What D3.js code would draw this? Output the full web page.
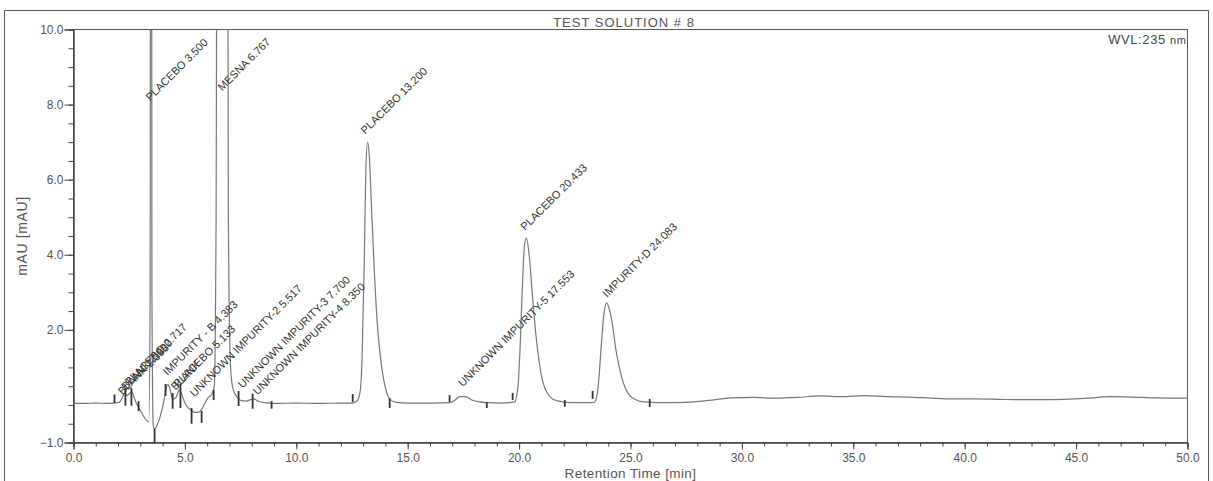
<!DOCTYPE html>
<html>
<head>
<meta charset="utf-8">
<script src="https://cdn.jsdelivr.net/npm/d3@7"></script>
<style>
  body { margin: 0; background: #fff; }
  svg { display: block; font-family: "Liberation Sans", Arial, sans-serif; }
</style>
</head>
<body>
<div id="chart"></div>
<script>
// chromatogram: retention time (min) vs signal (mAU)
var retTime = [0, 0.5, 1.0, 1.5, 1.8, 2.05, 2.2, 2.3, 2.4, 2.5, 2.62, 2.75, 2.9, 3.05, 3.2, 3.38,
  3.44, 3.48, 3.52, 3.58, 3.64, 3.74, 3.87, 4.0, 4.12, 4.22, 4.32, 4.45, 4.6, 4.75, 4.85, 5.0,
  5.15, 5.3, 5.45, 5.6, 5.75, 5.9, 6.05, 6.2, 6.32, 6.4, 6.5, 6.85, 6.95, 7.05, 7.15, 7.3, 7.5,
  7.75, 7.95, 8.1, 8.3, 8.6, 9.0, 10, 11, 12, 12.5, 12.7, 12.85, 12.95, 13.05, 13.12, 13.2,
  13.28, 13.38, 13.5, 13.62, 13.75, 13.9, 14.05, 14.2, 14.5, 15, 16, 16.9, 17.1, 17.35, 17.6,
  17.85, 18.2, 18.6, 19.2, 19.8, 19.95, 20.05, 20.15, 20.25, 20.33, 20.45, 20.6, 20.75, 20.9,
  21.05, 21.25, 21.5, 21.8, 22.1, 22.6, 23.2, 23.4, 23.55, 23.68, 23.8, 23.93, 24.05, 24.2,
  24.35, 24.5, 24.7, 24.9, 25.2, 25.5, 26, 26.5, 27.5, 28.5, 29.5, 30.5, 31.5, 32.5, 33.5,
  34.5, 35.5, 36.5, 37.5, 38.5, 39.5, 40.5, 41.5, 42.5, 43.5, 44.5, 45.5, 46.5, 47.5, 48.5, 50];
var signal = [0.05, 0.04, 0.05, 0.04, 0.05, 0.07, 0.2, 0.32, 0.25, 0.3, 0.35, 0.15, -0.05, -0.2, -0.35, -0.45,
  3, 40, 3, -0.55, -0.65, -0.55, -0.35, -0.05, 0.3, 0.55, 0.45, 0.15, 0.2, 0.4, 0.3, 0.05,
  -0.08, -0.15, -0.2, -0.2, -0.12, 0.05, 0.2, 0.28, 0.5, 5, 40, 40, 5, 1.0, 0.45, 0.25, 0.12,
  0.1, 0.14, 0.16, 0.1, 0.06, 0.04, 0.05, 0.04, 0.05, 0.05, 0.09, 0.3, 1.2, 3.8, 6.2, 7.0,
  6.6, 5.2, 3.6, 2.3, 1.4, 0.75, 0.35, 0.15, 0.07, 0.05, 0.05, 0.06, 0.12, 0.22, 0.22,
  0.14, 0.08, 0.06, 0.05, 0.08, 0.5, 1.6, 3.2, 4.3, 4.45, 4.0, 2.9, 1.9, 1.15,
  0.65, 0.33, 0.16, 0.1, 0.07, 0.06, 0.06, 0.08, 0.5, 1.5, 2.4, 2.72, 2.55, 2.1,
  1.45, 1.0, 0.55, 0.3, 0.15, 0.09, 0.07, 0.06, 0.07, 0.12, 0.19, 0.2, 0.18, 0.2, 0.24,
  0.22, 0.25, 0.22, 0.21, 0.18, 0.16, 0.16, 0.15, 0.14, 0.14, 0.15, 0.18, 0.22, 0.21, 0.19, 0.18];

// peak delimiter marks: time and the mAU span of each mark
var markTime = [1.84, 2.33, 2.6, 2.92, 3.64, 4.13, 4.45, 4.8, 5.3, 5.75, 6.29, 7.41, 8.04, 8.89,
  12.53, 14.19, 16.88, 18.55, 19.71, 22.05, 23.3, 25.86];
var markLo = [0.05, -0.02, -0.02, -0.16, -1.0, 0.24, -0.1, -0.08, -0.5, -0.48, 0.13, -0.03, -0.1, -0.1,
  0.08, -0.08, 0.08, -0.08, 0.13, -0.05, 0.16, -0.05];
var markHi = [0.28, 0.45, 0.45, 0.1, -0.63, 0.56, 0.32, 0.56, -0.08, -0.16, 0.4, 0.37, 0.3, 0.1,
  0.29, 0.18, 0.26, 0.08, 0.32, 0.13, 0.37, 0.16];

// peak names and where they sit (time, mAU)
var peakNames = ["BLANK 2.333", "BLANK 2.600", "PLACEBO 2.717", "PLACEBO 3.500", "IMPURITY - B 4.383",
  "BLANK", "PLACEBO 5.133", "UNKNOWN IMPURITY-2 5.517", "MESNA 6.767", "UNKNOWN IMPURITY-3 7.700",
  "UNKNOWN IMPURITY-4 8.350", "PLACEBO 13.200", "UNKNOWN IMPURITY-5 17.553", "PLACEBO 20.433",
  "IMPURITY-D 24.083"];
var peakLabelT = [2.2, 2.35, 2.5, 3.44, 4.22, 4.58, 4.68, 5.43, 6.68, 7.59, 8.26, 13.1, 17.47, 20.27, 23.95];
var peakLabelV = [0.25, 0.38, 0.5, 8.08, 0.77, 0.38, 0.45, 0.2, 8.35, 0.43, 0.25, 7.2, 0.47, 4.63, 2.85];

var yLabelTicks = [10, 8, 6, 4, 2, -1];

var W = 1213, H = 481;
var svg = d3.select("#chart").append("svg")
    .attr("width", W)
    .attr("height", H);

var plotL = 73.5, plotR = 1187.5, plotT = 29.5, plotB = 442.5;
var ink = "#444";

var x = d3.scaleLinear().domain([0, 50]).range([plotL, plotR]);
var y = d3.scaleLinear().domain([-1, 10]).range([plotB, plotT]);

// outer frame (scan shows top, left, right edges)
svg.append("path")
    .attr("d", "M4.5,481 V10.5 H1208.5 V481")
    .attr("fill", "none")
    .attr("stroke", "#555");

// plot box
svg.append("rect")
    .attr("x", plotL).attr("y", plotT)
    .attr("width", plotR - plotL).attr("height", plotB - plotT)
    .attr("fill", "none")
    .attr("stroke", "#555");

svg.append("text")
    .attr("x", 624).attr("y", 27)
    .attr("text-anchor", "middle")
    .attr("font-size", 13)
    .attr("letter-spacing", 1)
    .attr("fill", "#555")
    .text("TEST SOLUTION # 8");

var wvl = svg.append("text")
    .attr("x", plotR - 1).attr("y", 44)
    .attr("text-anchor", "end")
    .attr("font-size", 13)
    .attr("letter-spacing", 0.6)
    .attr("fill", ink);
wvl.append("tspan").text("WVL:235 ");
wvl.append("tspan").attr("font-size", 11).text("nm");

// axes
var xMinor = svg.append("g")
    .attr("transform", "translate(0," + plotB + ")")
    .call(d3.axisBottom(x).tickValues(d3.range(0, 51, 1)).tickSize(4).tickFormat(""));
var xMajor = svg.append("g")
    .attr("transform", "translate(0," + plotB + ")")
    .call(d3.axisBottom(x).tickValues(d3.range(0, 51, 5)).tickSize(7).tickPadding(4)
      .tickFormat(d3.format(".1f")));

var yMinor = svg.append("g")
    .attr("transform", "translate(" + plotL + ",0)")
    .call(d3.axisLeft(y).tickValues(d3.range(-1, 10.01, 0.5)).tickSize(5).tickFormat(""));
var yMajor = svg.append("g")
    .attr("transform", "translate(" + plotL + ",0)")
    .call(d3.axisLeft(y).tickValues(yLabelTicks).tickSize(9).tickPadding(1)
      .tickFormat(d3.format(".1f")));

[xMinor, xMajor, yMinor, yMajor].forEach(function(g) {
  g.selectAll(".domain").attr("stroke", "#444");
  g.selectAll("line").attr("stroke", "#444");
  g.selectAll("text").attr("fill", "#555").attr("font-size", 12)
    .attr("font-family", "Liberation Sans, Arial, sans-serif");
});

svg.append("text")
    .attr("x", (plotL + plotR) / 2).attr("y", 478)
    .attr("text-anchor", "middle")
    .attr("font-size", 13.5)
    .attr("letter-spacing", 0.4)
    .attr("fill", "#555")
    .text("Retention Time [min]");

svg.append("text")
    .attr("transform", "translate(27," + ((plotT + plotB) / 2) + ") rotate(-90)")
    .attr("text-anchor", "middle")
    .attr("font-size", 14)
    .attr("letter-spacing", 0.6)
    .attr("fill", "#555")
    .text("mAU [mAU]");

// trace
svg.append("clipPath").attr("id", "plotclip")
  .append("rect")
    .attr("x", plotL).attr("y", plotT)
    .attr("width", plotR - plotL).attr("height", plotB - plotT);

var pts = retTime.map(function(t, i) { return [t, signal[i]]; });
var line = d3.line()
    .x(function(d) { return x(d[0]); })
    .y(function(d) { return y(d[1]); })
    .curve(d3.curveMonotoneX);

svg.append("path")
    .datum(pts)
    .attr("clip-path", "url(#plotclip)")
    .attr("fill", "none")
    .attr("stroke", "#777")
    .attr("stroke-width", 1.2)
    .attr("d", line);

// delimiter marks
svg.append("g").selectAll("line")
    .data(markTime)
  .enter().append("line")
    .attr("x1", function(d) { return x(d); })
    .attr("x2", function(d) { return x(d); })
    .attr("y1", function(d, i) { return y(markLo[i]); })
    .attr("y2", function(d, i) { return y(markHi[i]); })
    .attr("stroke", "#333")
    .attr("stroke-width", 1.8);

// peak names
svg.append("g").selectAll("text")
    .data(peakNames)
  .enter().append("text")
    .attr("transform", function(d, i) {
      return "translate(" + x(peakLabelT[i]) + "," + y(peakLabelV[i]) + ") rotate(-45)";
    })
    .attr("font-size", 11)
    .attr("fill", "#333")
    .text(function(d) { return d; });
</script>
</body>
</html>
